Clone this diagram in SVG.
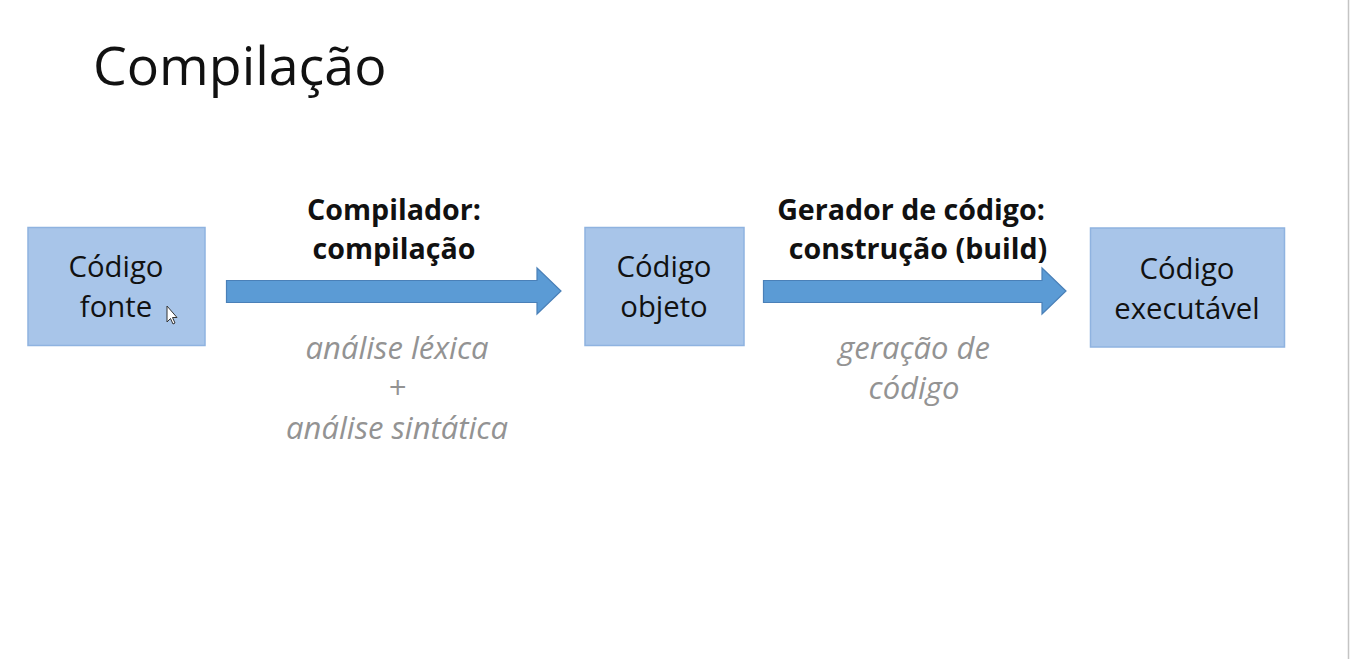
<svg xmlns="http://www.w3.org/2000/svg" width="1350" height="659" viewBox="0 0 1350 659">
<style>
.box{fill:#a8c5e9;stroke:#8fb3e0;stroke-width:1.5}
.arrow{fill:#5b9bd5;stroke:#4a80b8;stroke-width:1.2}
.t{font-family:"Open Sans","Noto Sans",sans-serif;text-anchor:middle;fill:#111}
.node{font-size:29.3px}
.lbl{font-size:28.6px;font-weight:bold}
.sub{font-size:31px;font-style:italic;fill:#939393}
</style>
<rect x="0" y="0" width="1350" height="659" fill="#ffffff"/>
<line x1="1348.5" y1="0" x2="1348.5" y2="659" stroke="#c4c4c4" stroke-width="1.5"/>
<text x="93" y="85" font-family="'Open Sans','Noto Sans',sans-serif" font-size="53.7" fill="#111">Compilação</text>
<g id="n1">
<rect class="box" x="28" y="227.5" width="177" height="118"/>
<text class="t node" x="116" y="277">Código</text>
<text class="t node" x="116" y="317">fonte</text>
<path d="M167 306 L167 322 L170.5 318.5 L173 324 L175 323 L172.5 317.5 L177 317.5 Z" fill="#fff" stroke="#333" stroke-width="1"/>
</g>
<g id="n2">
<rect class="box" x="585" y="227.5" width="159" height="118"/>
<text class="t node" x="664" y="277">Código</text>
<text class="t node" x="664" y="317">objeto</text>
</g>
<g id="n3">
<rect class="box" x="1090.5" y="228" width="194" height="119"/>
<text class="t node" x="1187" y="279">Código</text>
<text class="t node" x="1187" y="319">executável</text>
</g>
<g id="connectors">
<path class="arrow" d="M226.5 280.5 L537 280.5 L537 268 L561 291 L537 314 L537 302.5 L226.5 302.5 Z"/>
<path class="arrow" d="M763.5 280.5 L1042 280.5 L1042 268 L1066 291 L1042 314 L1042 302.5 L763.5 302.5 Z"/>
</g>
<g id="label1">
<text class="t lbl" x="394" y="220">Compilador:</text>
<text class="t lbl" x="394" y="259">compilação</text>
<text class="t sub" x="397" y="358.5">análise léxica</text>
<text class="t sub" x="397" y="398.5">+</text>
<text class="t sub" x="397" y="438.5">análise sintática</text>
</g>
<g id="label2">
<text class="t lbl" x="911" y="220">Gerador de código:</text>
<text class="t lbl" x="918" y="259">construção (build)</text>
<text class="t sub" x="914" y="358.5">geração de</text>
<text class="t sub" x="914" y="398.5">código</text>
</g>
</svg>
